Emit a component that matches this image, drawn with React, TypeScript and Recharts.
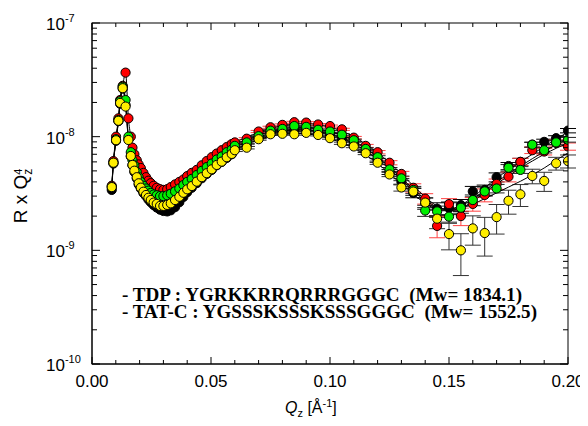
import React from "react";
import { ComposedChart, Scatter, Line, XAxis, YAxis, ErrorBar } from "recharts";

// ---------- data ----------
const qLow = [0.0083, 0.009, 0.0101, 0.0111, 0.0118, 0.0129, 0.0141, 0.0153, 0.0163, 0.017, 0.0178, 0.0188, 0.0196, 0.0205, 0.0216, 0.0227, 0.0237, 0.0247, 0.0259, 0.0272, 0.0286, 0.03, 0.0316, 0.0331, 0.0349, 0.0367, 0.0384, 0.04, 0.0419, 0.044, 0.0461, 0.0482, 0.0503, 0.0524, 0.0545, 0.0566, 0.0587];
const qHigh = [0.06, 0.065, 0.07, 0.075, 0.08, 0.085, 0.09, 0.095, 0.1, 0.105, 0.11, 0.115, 0.12, 0.125, 0.13, 0.135, 0.14, 0.145, 0.15, 0.155, 0.16, 0.165, 0.17, 0.175, 0.18, 0.185, 0.19, 0.195, 0.2];

const blackLow = [3.4e-9, 5.8e-9, 9.2e-9, 1.37e-8, 1.95e-8, 2.65e-8, 1.9e-8, 9.5e-9, 6.7e-9, 5.6e-9, 4.9e-9, 4.3e-9, 3.8e-9, 3.5e-9, 3.2e-9, 3.0e-9, 2.8e-9, 2.65e-9, 2.5e-9, 2.38e-9, 2.28e-9, 2.22e-9, 2.2e-9, 2.25e-9, 2.4e-9, 2.65e-9, 2.95e-9, 3.25e-9, 3.55e-9, 3.9e-9, 4.3e-9, 4.7e-9, 5.1e-9, 5.6e-9, 6.0e-9, 6.5e-9, 7.0e-9];
const redLow = [3.7e-9, 6.1e-9, 1.0e-8, 1.45e-8, 2.1e-8, 2.8e-8, 3.66e-8, 1.45e-8, 1.0e-8, 8.0e-9, 7.0e-9, 6.2e-9, 5.7e-9, 5.3e-9, 4.8e-9, 4.4e-9, 4.1e-9, 3.9e-9, 3.7e-9, 3.55e-9, 3.45e-9, 3.4e-9, 3.45e-9, 3.6e-9, 3.8e-9, 4.0e-9, 4.2e-9, 4.5e-9, 4.8e-9, 5.1e-9, 5.6e-9, 6.1e-9, 6.6e-9, 7.1e-9, 7.6e-9, 8.1e-9, 8.6e-9];
const greenLow = [3.6e-9, 5.9e-9, 9.5e-9, 1.4e-8, 2.05e-8, 2.75e-8, 2.1e-8, 1.0e-8, 7.3e-9, 6.2e-9, 5.6e-9, 4.9e-9, 4.4e-9, 4.0e-9, 3.7e-9, 3.5e-9, 3.35e-9, 3.2e-9, 3.1e-9, 3.05e-9, 3.0e-9, 3.0e-9, 3.05e-9, 3.15e-9, 3.3e-9, 3.5e-9, 3.75e-9, 4.0e-9, 4.25e-9, 4.6e-9, 5.0e-9, 5.4e-9, 5.8e-9, 6.3e-9, 6.7e-9, 7.3e-9, 7.7e-9];
const yellowLow = [3.6e-9, 5.9e-9, 9.3e-9, 1.38e-8, 1.98e-8, 2.67e-8, 1.84e-8, 9.35e-9, 6.76e-9, 5.64e-9, 5.02e-9, 4.4e-9, 3.89e-9, 3.56e-9, 3.28e-9, 3.07e-9, 2.9e-9, 2.77e-9, 2.63e-9, 2.56e-9, 2.46e-9, 2.46e-9, 2.51e-9, 2.59e-9, 2.77e-9, 2.96e-9, 3.21e-9, 3.44e-9, 3.68e-9, 4.02e-9, 4.4e-9, 4.77e-9, 5.16e-9, 5.64e-9, 6.03e-9, 6.59e-9, 7.05e-9];

const blackHigh = [7.9e-9, 8.4e-9, 9.8e-9, 1.09e-8, 1.11e-8, 1.14e-8, 1.15e-8, 1.09e-8, 1.04e-8, 9.6e-9, 8.7e-9, 7.5e-9, 6.2e-9, 4.9e-9, 4.02e-9, 3.2e-9, 2.6e-9, 2.32e-9, 2.36e-9, 2.5e-9, 3.3e-9, 3.4e-9, 4.4e-9, 5.52e-9, 6.0e-9, 8.5e-9, 9.0e-9, 9.7e-9, 1.13e-8];
const redHigh = [8.9e-9, 9.6e-9, 1.11e-8, 1.21e-8, 1.27e-8, 1.34e-8, 1.33e-8, 1.28e-8, 1.24e-8, 1.16e-8, 9.8e-9, 8.3e-9, 7.3e-9, 5.9e-9, 4.7e-9, 3.55e-9, 2.85e-9, 1.64e-9, 2.55e-9, 2.0e-9, 2.56e-9, 3.07e-9, 3.84e-9, 4.45e-9, 6.0e-9, 7.6e-9, 7.4e-9, 8.8e-9, 8.2e-9];
const greenHigh = [8.3e-9, 8.9e-9, 1.01e-8, 1.13e-8, 1.17e-8, 1.24e-8, 1.22e-8, 1.15e-8, 1.11e-8, 1.04e-8, 9.3e-9, 7.8e-9, 6.6e-9, 5.15e-9, 4.3e-9, 3.4e-9, 2.24e-9, 2.2e-9, 1.98e-9, 2.37e-9, 2.77e-9, 3.3e-9, 3.5e-9, 5.33e-9, 5.1e-9, 8.5e-9, 7.6e-9, 8.9e-9, 9.4e-9];
const yellowHigh = [7.6e-9, 8.0e-9, 9.5e-9, 1.05e-8, 1.06e-8, 1.05e-8, 1.08e-8, 1.035e-8, 9.7e-9, 8.75e-9, 8.2e-9, 7.15e-9, 5.9e-9, 4.65e-9, 3.57e-9, 3.29e-9, 2.63e-9, 1.9e-9, 1.39e-9, 1.0e-9, 1.56e-9, 1.42e-9, 1.96e-9, 2.73e-9, 3.11e-9, 4.51e-9, 4.08e-9, 5.83e-9, 6.1e-9];

const blackErrHigh = [2e-10, 2e-10, 2e-10, 2.5e-10, 2.5e-10, 2.5e-10, 2.5e-10, 2.5e-10, 2.5e-10, 2.5e-10, 2.5e-10, 2.5e-10, 2.5e-10, 2.5e-10, 2.5e-10, 3e-10, 3e-10, 3e-10, 3e-10, 3e-10, 3.5e-10, 3.5e-10, 4e-10, 4e-10, 4.5e-10, 4.5e-10, 5e-10, 5e-10, 5e-10];
const redErrHigh = [2e-10, 2e-10, 2.5e-10, 2.5e-10, 2.5e-10, 2.5e-10, 2.5e-10, 2.5e-10, 2.5e-10, 2.5e-10, 2.5e-10, 2.5e-10, 2.5e-10, 2.5e-10, 2.5e-10, 3e-10, 3e-10, 3.5e-10, 3e-10, 3.5e-10, 3.5e-10, 4e-10, 4e-10, 4.5e-10, 4.5e-10, 5e-10, 5e-10, 5.5e-10, 6e-10];
const greenErrHigh = [1.5e-10, 1.5e-10, 2e-10, 2e-10, 2e-10, 2e-10, 2e-10, 2e-10, 2e-10, 2e-10, 2e-10, 2e-10, 2e-10, 2e-10, 2e-10, 2.5e-10, 2.5e-10, 2.5e-10, 2.5e-10, 2.5e-10, 3e-10, 3e-10, 3e-10, 3.5e-10, 3.5e-10, 4e-10, 4e-10, 4e-10, 4.5e-10];
const yellowErrHigh = [2e-10, 2e-10, 2e-10, 2e-10, 2e-10, 2e-10, 2e-10, 2e-10, 2e-10, 2e-10, 2e-10, 2e-10, 2e-10, 2e-10, 2.5e-10, 2.5e-10, 2.5e-10, 3.5e-10, 3.8e-10, 4e-10, 4.5e-10, 5.3e-10, 5.7e-10, 6.5e-10, 6.8e-10, 6.6e-10, 7.8e-10, 7.5e-10, 8e-10];

// model (fit) curves for the high-Q range
const blackFitHigh = [7.9e-9, 8.9e-9, 9.9e-9, 1.07e-8, 1.12e-8, 1.15e-8, 1.15e-8, 1.11e-8, 1.05e-8, 9.7e-9, 8.7e-9, 7.5e-9, 6.3e-9, 5.2e-9, 4.2e-9, 3.35e-9, 2.7e-9, 2.35e-9, 2.3e-9, 2.5e-9, 2.95e-9, 3.55e-9, 4.3e-9, 5.1e-9, 6.0e-9, 7.0e-9, 8.2e-9, 9.5e-9, 1.1e-8];
const redFitHigh = [8.9e-9, 9.9e-9, 1.09e-8, 1.18e-8, 1.25e-8, 1.29e-8, 1.3e-8, 1.27e-8, 1.21e-8, 1.12e-8, 1.0e-8, 8.6e-9, 7.2e-9, 5.9e-9, 4.7e-9, 3.7e-9, 2.95e-9, 2.45e-9, 2.25e-9, 2.35e-9, 2.7e-9, 3.2e-9, 3.85e-9, 4.5e-9, 5.3e-9, 6.1e-9, 7.0e-9, 7.9e-9, 8.8e-9];
const greenFitHigh = [8.3e-9, 9.3e-9, 1.03e-8, 1.11e-8, 1.17e-8, 1.21e-8, 1.21e-8, 1.17e-8, 1.11e-8, 1.03e-8, 9.2e-9, 7.9e-9, 6.6e-9, 5.4e-9, 4.35e-9, 3.45e-9, 2.8e-9, 2.4e-9, 2.3e-9, 2.45e-9, 2.85e-9, 3.35e-9, 4.0e-9, 4.7e-9, 5.5e-9, 6.4e-9, 7.4e-9, 8.5e-9, 9.6e-9];
const yellowFitHigh = [7.5e-9, 8.5e-9, 9.4e-9, 1.01e-8, 1.05e-8, 1.07e-8, 1.06e-8, 1.02e-8, 9.6e-9, 8.8e-9, 7.9e-9, 6.9e-9, 5.8e-9, 4.75e-9, 3.8e-9, 3.1e-9, 2.6e-9, 2.3e-9, 2.25e-9, 2.35e-9, 2.55e-9, 2.85e-9, 3.2e-9, 3.6e-9, 4.05e-9, 4.6e-9, 5.3e-9, 6.2e-9, 7.2e-9];

const xMajorTicks = [0, 0.05, 0.1, 0.15, 0.2];
const xAllTicks = [0, 0.01, 0.02, 0.03, 0.04, 0.05, 0.06, 0.07, 0.08, 0.09, 0.1, 0.11, 0.12, 0.13, 0.14, 0.15, 0.16, 0.17, 0.18, 0.19, 0.2];
const yMajorTicks = [1e-10, 1e-9, 1e-8, 1e-7];
const yAllTicks = [1e-10, 2e-10, 3e-10, 4e-10, 5e-10, 6e-10, 7e-10, 8e-10, 9e-10, 1e-9, 2e-9, 3e-9, 4e-9, 5e-9, 6e-9, 7e-9, 8e-9, 9e-9, 1e-8, 2e-8, 3e-8, 4e-8, 5e-8, 6e-8, 7e-8, 8e-8, 9e-8, 1e-7];

const annotationLines = [
  "- TDP : YGRKKRRQRRRGGGC  (Mw= 1834.1)",
  "- TAT-C : YGSSSKSSSKSSSGGGC  (Mw= 1552.5)",
];

// ---------- tables ----------
const lowTable = (vs: number[]) => qLow.map((q, i) => ({ q, v: vs[i], err: 0 }));
const highTable = (vs: number[], es: number[]) => qHigh.map((q, i) => ({ q, v: vs[i], err: es[i] }));
const pointsOf = (lo: number[], hi: number[], es: number[]) => [...lowTable(lo), ...highTable(hi, es)];
const fitOf = (lo: number[], hi: number[]) => [
  ...qLow.map((q, i) => ({ q, v: lo[i] })),
  ...qHigh.map((q, i) => ({ q, v: hi[i] })),
];

const blackPts = pointsOf(blackLow, blackHigh, blackErrHigh);
const redPts = pointsOf(redLow, redHigh, redErrHigh);
const greenPts = pointsOf(greenLow, greenHigh, greenErrHigh);
const yellowPts = pointsOf(yellowLow, yellowHigh, yellowErrHigh);

const blackFit = fitOf(blackLow, blackFitHigh);
const redFit = fitOf(redLow, redFitHigh);
const greenFit = fitOf(greenLow, greenFitHigh);
const yellowFit = fitOf(yellowLow, yellowFitHigh);

// ---------- layout ----------
const W = 580;
const H = 410;
const PL = 84;
const PR = 560;
const PT = 15;
const PB = 356;
const X_DOMAIN = [0, 0.2];
const Y_DOMAIN = [1e-10, 1e-7];
const SANS = "Arial, 'Liberation Sans', sans-serif";
const SERIF = "'Times New Roman', 'Liberation Serif', serif";

const isXMajor = (v: number) => Math.abs(v / 0.05 - Math.round(v / 0.05)) < 1e-6;
const isYMajor = (v: number) => Math.abs(Math.log10(v) - Math.round(Math.log10(v))) < 1e-6;

// frame-tick positions along the same plot box the chart uses
const fx = (q: number) => PL + ((q - X_DOMAIN[0]) / (X_DOMAIN[1] - X_DOMAIN[0])) * (PR - PL);
const fy = (v: number) =>
  PB - ((Math.log10(v) - Math.log10(Y_DOMAIN[0])) / (Math.log10(Y_DOMAIN[1]) - Math.log10(Y_DOMAIN[0]))) * (PB - PT);

const XLabelTick = (p: any) => (
  <text x={p.x} y={p.y + 22.5} textAnchor="middle" fontFamily={SANS} fontSize={17} fill="#000">
    {Number(p.payload.value).toFixed(2)}
  </text>
);
const YLabelTick = (p: any) => {
  const e = Math.round(Math.log10(Number(p.payload.value)));
  return (
    <text x={38} y={p.y + 7} textAnchor="start" fontFamily={SANS} fontSize={17} fill="#000">
      10<tspan fontSize={11} dy={-8}>{String(e)}</tspan>
    </text>
  );
};

const dot = (fill: string) => (p: any) => {
  if (p.cx == null || p.cy == null) return <g />;
  return <circle cx={p.cx} cy={p.cy} r={4.6} fill={fill} stroke="#000" strokeWidth={1} />;
};

const series = [
  { name: "black", pts: blackPts, fit: blackFit, fill: "#000000", bar: "#000000" },
  { name: "red", pts: redPts, fit: redFit, fill: "#ff0000", bar: "#ff4040" },
  { name: "green", pts: greenPts, fit: greenFit, fill: "#00ee00", bar: "#222222" },
  { name: "yellow", pts: yellowPts, fit: yellowFit, fill: "#ffee00", bar: "#333333" },
];

export default function App() {
  return (
    <div style={{ position: "relative", width: W, height: H }}>
      <ComposedChart width={W} height={H} margin={{ top: PT, right: W - PR, bottom: 0, left: 0 }}>
        <XAxis xAxisId="x" dataKey="q" type="number" domain={X_DOMAIN} allowDataOverflow
          orientation="bottom" height={H - PB} ticks={xMajorTicks} interval={0}
          tick={<XLabelTick />} tickLine={false} tickSize={0} tickMargin={0} axisLine={{ stroke: "#000" }} />
        <YAxis yAxisId="y" dataKey="v" type="number" scale="log" domain={Y_DOMAIN} allowDataOverflow
          orientation="left" width={PL} ticks={yMajorTicks} interval={0}
          tick={<YLabelTick />} tickLine={false} tickSize={0} tickMargin={0} axisLine={{ stroke: "#000" }} />

        {series.map((s) => (
          <Scatter key={"s-" + s.name} name={s.name} data={s.pts} xAxisId="x" yAxisId="y"
            shape={dot(s.fill)} isAnimationActive={false}>
            <ErrorBar dataKey="err" direction="y" width={8} stroke={s.bar} strokeWidth={1} />
          </Scatter>
        ))}
        {series.map((s) => (
          <Line key={"l-" + s.name} data={s.fit} dataKey="v" xAxisId="x" yAxisId="y" type="monotone"
            stroke="#000" strokeWidth={1} dot={false} activeDot={false} isAnimationActive={false} />
        ))}
      </ComposedChart>

      <svg width={W} height={H} style={{ position: "absolute", left: 0, top: 0, pointerEvents: "none" }}>
        {/* plot frame with inward ticks on all four sides */}
        <rect x={PL} y={PT} width={PR - PL} height={PB - PT} fill="none" stroke="#000" strokeWidth={1} />
        {xAllTicks.map((t) => {
          const x = fx(t);
          const l = isXMajor(t) ? 7 : 4;
          return (
            <g key={"xt" + t}>
              <line x1={x} x2={x} y1={PB} y2={PB - l} stroke="#000" strokeWidth={1} />
              <line x1={x} x2={x} y1={PT} y2={PT + l} stroke="#000" strokeWidth={1} />
            </g>
          );
        })}
        {yAllTicks.map((t) => {
          const y = fy(t);
          const l = isYMajor(t) ? 8 : 5;
          return (
            <g key={"yt" + t}>
              <line x1={PL} x2={PL + l} y1={y} y2={y} stroke="#000" strokeWidth={1} />
              <line x1={PR} x2={PR - l} y1={y} y2={y} stroke="#000" strokeWidth={1} />
            </g>
          );
        })}

        <text x={114} y={292.7} fontFamily={SERIF} fontWeight="bold" fontSize={18} fill="#000"
          style={{ whiteSpace: "pre" }} textLength={400} lengthAdjust="spacingAndGlyphs">
          {annotationLines[0]}
        </text>
        <text x={114} y={309.7} fontFamily={SERIF} fontWeight="bold" fontSize={18} fill="#000"
          style={{ whiteSpace: "pre" }} textLength={415} lengthAdjust="spacingAndGlyphs">
          {annotationLines[1]}
        </text>
        <text x={277} y={405} fontFamily={SANS} fontSize={16} fill="#000">
          <tspan fontStyle="italic">Q</tspan>
          <tspan fontSize={11} dy={4}>z</tspan>
          <tspan dy={-4}> [Å</tspan>
          <tspan fontSize={11} dy={-6}>-1</tspan>
          <tspan dy={6}>]</tspan>
        </text>
        <text transform="rotate(-90)" x={-188} y={19} textAnchor="middle" fontFamily={SANS} fontSize={19} fill="#000">
          R x Q<tspan fontSize={12} dy={5}>z</tspan>
          <tspan fontSize={11} dx={-6} dy={-10}>4</tspan>
        </text>
      </svg>
    </div>
  );
}
